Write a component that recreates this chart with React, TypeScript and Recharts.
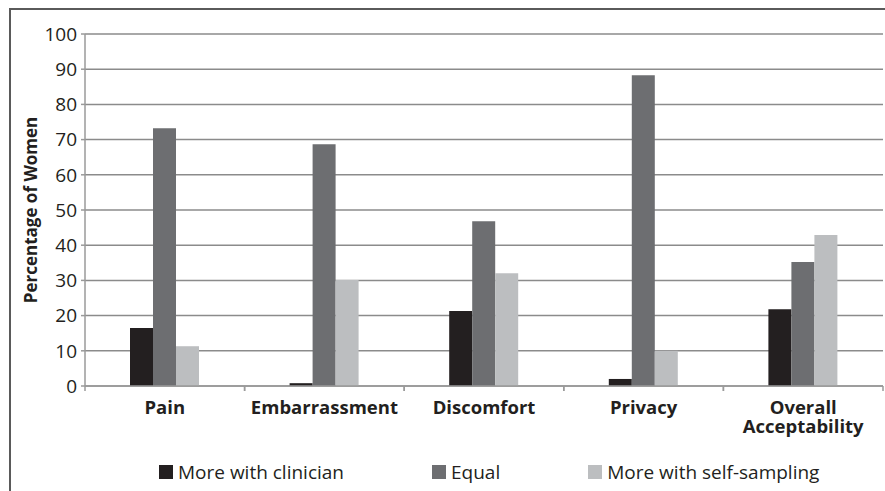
import { Bar, BarChart, CartesianGrid, Legend, XAxis, YAxis } from "recharts";

const categories = ["Pain", "Embarrassment", "Discomfort", "Privacy", "Overall Acceptability"];
const moreWithClinician = [16.5, 0.8, 21.3, 2.0, 21.8];
const equal = [73.2, 68.7, 46.8, 88.3, 35.2];
const moreWithSelfSampling = [11.3, 30.1, 32.0, 10.0, 42.9];
const yTicks = [0, 10, 20, 30, 40, 50, 60, 70, 80, 90, 100];

const seriesNames = ["More with clinician", "Equal", "More with self-sampling"];
const colors = ["#231f20", "#6d6e71", "#bcbec0"];

const data = categories.map((c, i) => ({
  name: c,
  clinician: moreWithClinician[i],
  equal: equal[i],
  self: moreWithSelfSampling[i],
}));

const W = 885;
const H = 491;
const margin = { top: 34, right: 2, bottom: 0, left: 0 };
const yAxisWidth = 85;
const band = (W - yAxisWidth - margin.left - margin.right) / categories.length;
const font = "'Open Sans', sans-serif";
const axisGray = "#9a9a9a";

function CategoryTick(props: any) {
  const { x, y, payload } = props;
  const label: string = payload.value;
  const lines = label.length > 14 ? label.split(" ") : [label];
  return (
    <g>
      <line x1={x - band / 2} x2={x - band / 2} y1={y} y2={y + 5} stroke={axisGray} strokeWidth={1.5} />
      <line x1={x + band / 2} x2={x + band / 2} y1={y} y2={y + 5} stroke={axisGray} strokeWidth={1.5} />
      <text x={x} y={y + 28} textAnchor="middle" fontFamily={font} fontSize={18.5} fontWeight={700} fill="#231f20">
        {lines.map((l, i) => (
          <tspan key={l} x={x} dy={i === 0 ? 0 : 19}>
            {l}
          </tspan>
        ))}
      </text>
    </g>
  );
}

function YLabel(props: any) {
  const vb = props.viewBox;
  const cx = 30;
  const cy = vb.y + vb.height / 2;
  return (
    <text
      x={cx}
      y={cy}
      transform={`rotate(-90 ${cx} ${cy})`}
      textAnchor="middle"
      dominantBaseline="central"
      fontFamily={font}
      fontSize={17}
      fontWeight={700}
      fill="#231f20"
    >
      Percentage of Women
    </text>
  );
}

function LegendContent() {
  return (
    <div style={{ display: "flex", gap: 88, fontFamily: font, fontSize: 19, color: "#231f20", lineHeight: "22px" }}>
      {seriesNames.map((n, i) => (
        <div key={n} style={{ display: "flex", alignItems: "center", gap: 5 }}>
          <span style={{ width: 14, height: 14, background: colors[i], display: "inline-block" }} />
          <span>{n}</span>
        </div>
      ))}
    </div>
  );
}

export default function App() {
  return (
    <div style={{ position: "fixed", left: 0, top: 0, width: W, height: H, background: "#fff", overflow: "hidden" }}>
      <div
        style={{
          position: "absolute",
          left: 9,
          top: 8,
          width: W,
          height: H,
          borderTop: "2px solid #5a5a5a",
          borderLeft: "2px solid #5a5a5a",
        }}
      />
      <BarChart width={W} height={H} data={data} margin={margin} barGap={0} barSize={23}>
        <CartesianGrid vertical={false} stroke="#8b8b8b" strokeWidth={1.5} />
        <XAxis
          dataKey="name"
          height={105}
          tickSize={0}
          tickMargin={0}
          tickLine={false}
          interval={0}
          axisLine={{ stroke: axisGray, strokeWidth: 1.5 }}
          tick={<CategoryTick />}
        />
        <YAxis
          width={yAxisWidth}
          domain={[0, 100]}
          ticks={yTicks}
          interval={0}
          tickSize={4}
          tickMargin={4}
          axisLine={{ stroke: axisGray, strokeWidth: 1.5 }}
          tickLine={{ stroke: axisGray, strokeWidth: 1.5 }}
          tick={{ fontFamily: font, fontSize: 19, fill: "#231f20" }}
          label={<YLabel />}
        />
        <Legend
          verticalAlign="middle"
          align="center"
          content={<LegendContent />}
          wrapperStyle={{ top: 461, left: 159, width: "auto" }}
        />
        <Bar dataKey="clinician" name={seriesNames[0]} fill={colors[0]} isAnimationActive={false} />
        <Bar dataKey="equal" name={seriesNames[1]} fill={colors[1]} isAnimationActive={false} />
        <Bar dataKey="self" name={seriesNames[2]} fill={colors[2]} isAnimationActive={false} />
      </BarChart>
    </div>
  );
}
